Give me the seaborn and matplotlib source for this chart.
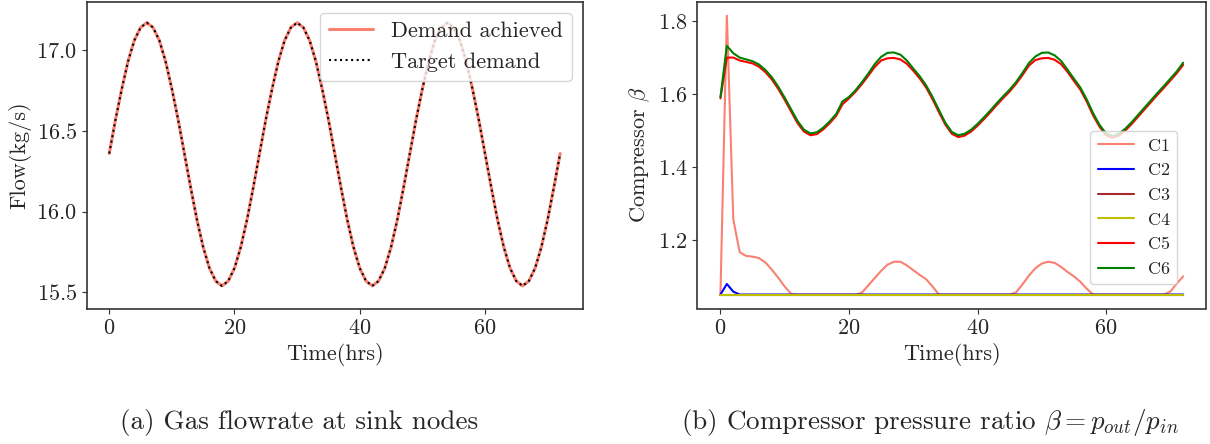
# -*- coding: utf-8 -*-
# gas flow at sink nodes + compressor pressure ratio, two panels with captions

import matplotlib
matplotlib.use("Agg")
import matplotlib.pyplot as plt
import seaborn as sns

# ---------------- data ----------------
hours = list(range(73))

demand_achieved = [
    16.36, 16.57, 16.76, 16.93, 17.06, 17.14, 17.17, 17.14, 17.06, 16.93, 16.76, 16.57,
    16.36, 16.15, 15.95, 15.78, 15.65, 15.57, 15.54, 15.57, 15.65, 15.78, 15.95, 16.15,
    16.36, 16.57, 16.76, 16.93, 17.06, 17.14, 17.17, 17.14, 17.06, 16.93, 16.76, 16.57,
    16.36, 16.15, 15.95, 15.78, 15.65, 15.57, 15.54, 15.57, 15.65, 15.78, 15.95, 16.15,
    16.36, 16.57, 16.76, 16.93, 17.06, 17.14, 17.17, 17.14, 17.06, 16.93, 16.76, 16.57,
    16.36, 16.15, 15.95, 15.78, 15.65, 15.57, 15.54, 15.57, 15.65, 15.78, 15.95, 16.15,
    16.36,
]
target_demand = [
    16.36, 16.57, 16.76, 16.93, 17.06, 17.14, 17.17, 17.14, 17.06, 16.93, 16.76, 16.57,
    16.36, 16.15, 15.95, 15.78, 15.65, 15.57, 15.54, 15.57, 15.65, 15.78, 15.95, 16.15,
    16.36, 16.57, 16.76, 16.93, 17.06, 17.14, 17.17, 17.14, 17.06, 16.93, 16.76, 16.57,
    16.36, 16.15, 15.95, 15.78, 15.65, 15.57, 15.54, 15.57, 15.65, 15.78, 15.95, 16.15,
    16.36, 16.57, 16.76, 16.93, 17.06, 17.14, 17.17, 17.14, 17.06, 16.93, 16.76, 16.57,
    16.36, 16.15, 15.95, 15.78, 15.65, 15.57, 15.54, 15.57, 15.65, 15.78, 15.95, 16.15,
    16.36,
]

c1 = [
    1.050, 1.815, 1.256, 1.166, 1.156, 1.154, 1.150, 1.138, 1.118, 1.096, 1.072, 1.052,
    1.050, 1.050, 1.050, 1.050, 1.050, 1.050, 1.050, 1.050, 1.050, 1.050, 1.055, 1.075,
    1.095, 1.115, 1.132, 1.140, 1.140, 1.130, 1.117, 1.104, 1.092, 1.072, 1.050, 1.050,
    1.050, 1.050, 1.050, 1.050, 1.050, 1.050, 1.050, 1.050, 1.050, 1.050, 1.056, 1.078,
    1.102, 1.122, 1.135, 1.140, 1.137, 1.126, 1.112, 1.100, 1.085, 1.066, 1.050, 1.050,
    1.050, 1.050, 1.050, 1.050, 1.050, 1.050, 1.050, 1.050, 1.050, 1.050, 1.058, 1.080,
    1.100,
]
c2 = [1.050, 1.079, 1.058] + [1.050] * 70
c3 = [1.050] * 73
c4 = [1.050] * 73
c5 = [
    1.588, 1.700, 1.700, 1.692, 1.688, 1.684, 1.675, 1.660, 1.640, 1.614, 1.584, 1.552,
    1.520, 1.497, 1.487, 1.490, 1.503, 1.520, 1.540, 1.572, 1.588, 1.606, 1.627, 1.650,
    1.674, 1.692, 1.698, 1.699, 1.695, 1.683, 1.664, 1.643, 1.618, 1.586, 1.550, 1.516,
    1.491, 1.482, 1.486, 1.497, 1.513, 1.531, 1.550, 1.570, 1.589, 1.607, 1.628, 1.652,
    1.678, 1.693, 1.698, 1.699, 1.694, 1.682, 1.661, 1.636, 1.612, 1.579, 1.541, 1.510,
    1.487, 1.480, 1.486, 1.500, 1.518, 1.538, 1.558, 1.578, 1.598, 1.617, 1.637, 1.657,
    1.680,
]
c6 = [
    1.592, 1.732, 1.712, 1.700, 1.695, 1.690, 1.681, 1.666, 1.646, 1.620, 1.590, 1.558,
    1.526, 1.502, 1.492, 1.495, 1.508, 1.525, 1.545, 1.580, 1.592, 1.610, 1.632, 1.656,
    1.682, 1.702, 1.713, 1.714, 1.708, 1.692, 1.670, 1.649, 1.624, 1.592, 1.556, 1.521,
    1.496, 1.487, 1.491, 1.502, 1.518, 1.536, 1.555, 1.575, 1.594, 1.612, 1.633, 1.658,
    1.685, 1.703, 1.713, 1.714, 1.706, 1.691, 1.667, 1.642, 1.618, 1.585, 1.547, 1.515,
    1.492, 1.485, 1.491, 1.505, 1.523, 1.543, 1.563, 1.583, 1.603, 1.622, 1.642, 1.662,
    1.686,
]
compressor_names = ["C1", "C2", "C3", "C4", "C5", "C6"]
compressor_colors = ["salmon", "blue", "brown", "y", "red", "green"]

# ---------------- style ----------------
sns.set_style("ticks")
plt.rcParams["font.family"] = ["cmr10", "DejaVu Serif"]
plt.rcParams["mathtext.fontset"] = "cm"
plt.rcParams["axes.formatter.use_mathtext"] = True
plt.rcParams["axes.unicode_minus"] = False
label_fontsize = 16
tick_fontsize = 16
caption_fontsize = 19.5

W, H = 1210, 444
fig = plt.figure(figsize=(W / 100, H / 100), dpi=100)
ax1 = fig.add_axes([86.7 / W, 1 - 308.5 / H, 496 / W, 306.8 / H])
ax2 = fig.add_axes([697.3 / W, 1 - 308.5 / H, 509 / W, 306.8 / H])

# ---------------- (a) flow ----------------
sns.lineplot(x=hours, y=demand_achieved, color="salmon", linewidth=2.2,
             label="Demand achieved", ax=ax1)
sns.lineplot(x=hours, y=target_demand, color="black", linewidth=1.5, linestyle=":",
             label="Target demand", ax=ax1)
ax1.set_ylim(15.40, 17.30)
ax1.set_xticks([0, 20, 40, 60])
ax1.set_yticks([15.5, 16.0, 16.5, 17.0])
ax1.set_xlabel("Time(hrs)", fontsize=label_fontsize)
ax1.set_ylabel("Flow(kg/s)", fontsize=label_fontsize)
ax1.legend(loc="upper right", fontsize=16)

# ---------------- (b) compressor ratio ----------------
for name, vals, col in zip(compressor_names, [c1, c2, c3, c4, c5, c6], compressor_colors):
    sns.lineplot(x=hours, y=vals, color=col, linewidth=1.5, label=name, ax=ax2)
ax2.set_xticks([0, 20, 40, 60])
ax2.set_yticks([1.2, 1.4, 1.6, 1.8])
ax2.set_xlabel("Time(hrs)", fontsize=label_fontsize)
ax2.set_ylabel(r"Compressor $\beta$", fontsize=label_fontsize)
ax2.legend(loc="lower right", bbox_to_anchor=(0.961, 0.05), fontsize=13)

for ax in (ax1, ax2):
    ax.tick_params(labelsize=tick_fontsize, color="#333333")
    for sp in ax.spines.values():
        sp.set_color("#333333")
        sp.set_linewidth(1.2)

# captions
fig.text(299 / W, 1 - 429 / H, "(a) Gas flowrate at sink nodes",
         ha="center", va="baseline", fontsize=caption_fontsize)
fig.text(930 / W, 1 - 429 / H, r"(b) Compressor pressure ratio $\beta = p_{out}/p_{in}$",
         ha="center", va="baseline", fontsize=caption_fontsize)

fig.savefig("out.png", dpi=100)
